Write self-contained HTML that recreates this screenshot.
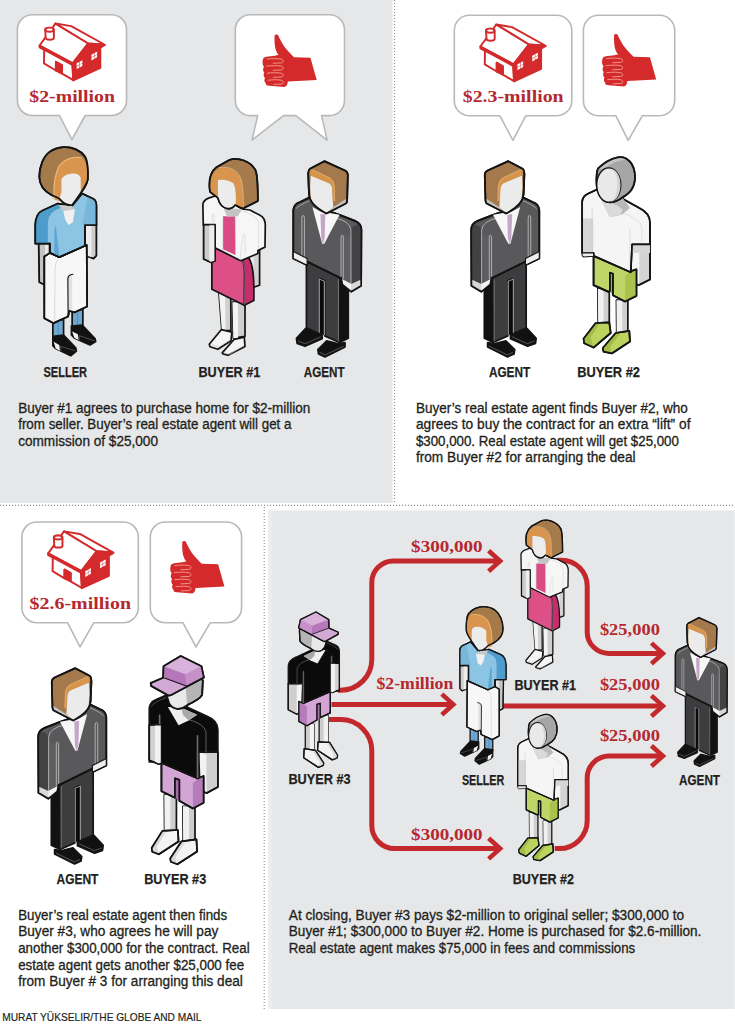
<!DOCTYPE html>
<html><head><meta charset="utf-8"><style>html,body{margin:0;padding:0;background:#fff;}svg{display:block;}</style></head>
<body><svg width="735" height="1024" viewBox="0 0 735 1024">
<rect x="0" y="0" width="735" height="1024" fill="#fff"/>
<rect x="0" y="0" width="392.6" height="503" fill="#e6e7e8"/>
<rect x="268" y="510.5" width="467" height="498.5" fill="#e6e7e8"/>
<rect x="268" y="510.5" width="3.5" height="498.5" fill="#eceef0"/>
<rect x="733" y="510.5" width="2" height="498.5" fill="#ebebeb"/>
<line x1="394.5" y1="0" x2="394.5" y2="502" stroke="#8f8f8f" stroke-width="1.1" stroke-dasharray="1.1 1.9"/>
<line x1="0" y1="505.4" x2="735" y2="505.4" stroke="#8f8f8f" stroke-width="1.1" stroke-dasharray="1.1 1.9"/>
<line x1="264.2" y1="507" x2="264.2" y2="1009" stroke="#8f8f8f" stroke-width="1.1" stroke-dasharray="1.1 1.9"/>
<path d="M32.4,14.7 H111.5 A15,15 0 0 1 126.5,29.7 V100.5 A15,15 0 0 1 111.5,115.5 H85.2 L71.9,139.6 L59.5,115.5 H32.4 A15,15 0 0 1 17.4,100.5 V29.7 A15,15 0 0 1 32.4,14.7 Z" fill="#fff" stroke="#b9b9b9" stroke-width="1.6" stroke-linejoin="round"/>
<path d="M250.3,14.7 H329.5 A15,15 0 0 1 344.5,29.7 V100.6 A15,15 0 0 1 329.5,115.6 H321.6 L327.1,140.1 L295.8,115.6 H283.5 L252,140.1 L257.7,115.6 H250.3 A15,15 0 0 1 235.3,100.6 V29.7 A15,15 0 0 1 250.3,14.7 Z" fill="#fff" stroke="#b9b9b9" stroke-width="1.6" stroke-linejoin="round"/>
<path d="M469.3,15.3 H556.8 A15,15 0 0 1 571.8,30.3 V100.7 A15,15 0 0 1 556.8,115.7 H525.9 L512.9,140.3 L499.8,115.7 H469.3 A15,15 0 0 1 454.3,100.7 V30.3 A15,15 0 0 1 469.3,15.3 Z" fill="#fff" stroke="#b9b9b9" stroke-width="1.6" stroke-linejoin="round"/>
<path d="M598.4,15.3 H659.7 A15,15 0 0 1 674.7,30.3 V100.7 A15,15 0 0 1 659.7,115.7 H642.4 L628.2,140.3 L615.8,115.7 H598.4 A15,15 0 0 1 583.4,100.7 V30.3 A15,15 0 0 1 598.4,15.3 Z" fill="#fff" stroke="#b9b9b9" stroke-width="1.6" stroke-linejoin="round"/>
<path d="M36.9,522 H123.30000000000001 A15,15 0 0 1 138.3,537 V607.8 A15,15 0 0 1 123.30000000000001,622.8 H93.7 L80,646.8 L67.6,622.8 H36.9 A15,15 0 0 1 21.9,607.8 V537 A15,15 0 0 1 36.9,522 Z" fill="#fff" stroke="#b9b9b9" stroke-width="1.6" stroke-linejoin="round"/>
<path d="M165.3,522 H226.6 A15,15 0 0 1 241.6,537 V607.8 A15,15 0 0 1 226.6,622.8 H210.2 L196,646.8 L183,622.8 H165.3 A15,15 0 0 1 150.3,607.8 V537 A15,15 0 0 1 165.3,522 Z" fill="#fff" stroke="#b9b9b9" stroke-width="1.6" stroke-linejoin="round"/>
<g transform="translate(35.00,20.00) scale(0.10204)">
<g fill="none" stroke="#d42a2c" stroke-width="19" stroke-linejoin="round">
<path d="M200,35 L355,60 L680,240 L520,230 Z" fill="#fff"/>
<path d="M200,35 L520,230 L370,425 L45,250 Z" fill="#fff"/>
<path d="M45,250 L45,268 L368,442 L370,425 Z" fill="#fff"/>
<path d="M90,290 L365,440 L375,590 L265,525 L265,445 L205,410 L205,495 L88,425 Z" fill="#fff"/>
<path d="M205,410 L265,445 L265,525 L205,495 Z" fill="#d42a2c"/>
<path d="M370,425 L520,230 L685,245 L640,272 L640,470 L375,592 Z" fill="#d42a2c"/>
<path d="M100,95 C100,70 185,70 185,95 L185,175 C185,200 105,200 105,175 Z" fill="#fff"/>
<ellipse cx="142" cy="95" rx="40" ry="20" fill="#fff"/>
</g>
<g fill="#fff">
<path d="M408,425 L434,411 L434,437 L408,451 Z"/><path d="M438,409 L464,395 L464,421 L438,435 Z"/>
<path d="M408,455 L434,441 L434,467 L408,481 Z"/><path d="M438,439 L464,425 L464,451 L438,465 Z"/>
<path d="M553,340 L579,326 L579,352 L553,366 Z"/><path d="M583,324 L609,310 L609,336 L583,350 Z"/>
<path d="M553,370 L579,356 L579,382 L553,396 Z"/><path d="M583,354 L609,340 L609,366 L583,380 Z"/>
</g>
</g>
<g transform="translate(475.80,21.00) scale(0.10204)">
<g fill="none" stroke="#d42a2c" stroke-width="19" stroke-linejoin="round">
<path d="M200,35 L355,60 L680,240 L520,230 Z" fill="#fff"/>
<path d="M200,35 L520,230 L370,425 L45,250 Z" fill="#fff"/>
<path d="M45,250 L45,268 L368,442 L370,425 Z" fill="#fff"/>
<path d="M90,290 L365,440 L375,590 L265,525 L265,445 L205,410 L205,495 L88,425 Z" fill="#fff"/>
<path d="M205,410 L265,445 L265,525 L205,495 Z" fill="#d42a2c"/>
<path d="M370,425 L520,230 L685,245 L640,272 L640,470 L375,592 Z" fill="#d42a2c"/>
<path d="M100,95 C100,70 185,70 185,95 L185,175 C185,200 105,200 105,175 Z" fill="#fff"/>
<ellipse cx="142" cy="95" rx="40" ry="20" fill="#fff"/>
</g>
<g fill="#fff">
<path d="M408,425 L434,411 L434,437 L408,451 Z"/><path d="M438,409 L464,395 L464,421 L438,435 Z"/>
<path d="M408,455 L434,441 L434,467 L408,481 Z"/><path d="M438,439 L464,425 L464,451 L438,465 Z"/>
<path d="M553,340 L579,326 L579,352 L553,366 Z"/><path d="M583,324 L609,310 L609,336 L583,350 Z"/>
<path d="M553,370 L579,356 L579,382 L553,396 Z"/><path d="M583,354 L609,340 L609,366 L583,380 Z"/>
</g>
</g>
<g transform="translate(43.60,527.80) scale(0.10204)">
<g fill="none" stroke="#d42a2c" stroke-width="19" stroke-linejoin="round">
<path d="M200,35 L355,60 L680,240 L520,230 Z" fill="#fff"/>
<path d="M200,35 L520,230 L370,425 L45,250 Z" fill="#fff"/>
<path d="M45,250 L45,268 L368,442 L370,425 Z" fill="#fff"/>
<path d="M90,290 L365,440 L375,590 L265,525 L265,445 L205,410 L205,495 L88,425 Z" fill="#fff"/>
<path d="M205,410 L265,445 L265,525 L205,495 Z" fill="#d42a2c"/>
<path d="M370,425 L520,230 L685,245 L640,272 L640,470 L375,592 Z" fill="#d42a2c"/>
<path d="M100,95 C100,70 185,70 185,95 L185,175 C185,200 105,200 105,175 Z" fill="#fff"/>
<ellipse cx="142" cy="95" rx="40" ry="20" fill="#fff"/>
</g>
<g fill="#fff">
<path d="M408,425 L434,411 L434,437 L408,451 Z"/><path d="M438,409 L464,395 L464,421 L438,435 Z"/>
<path d="M408,455 L434,441 L434,467 L408,481 Z"/><path d="M438,439 L464,425 L464,451 L438,465 Z"/>
<path d="M553,340 L579,326 L579,352 L553,366 Z"/><path d="M583,324 L609,310 L609,336 L583,350 Z"/>
<path d="M553,370 L579,356 L579,382 L553,396 Z"/><path d="M583,354 L609,340 L609,366 L583,380 Z"/>
</g>
</g>
<g transform="translate(255.00,28.00) scale(0.09524)">
<path d="M207,74 C215,66 235,66 242,74 C262,122 290,176 330,222 C360,256 385,282 410,307 L582,312 L648,546 L345,563 C342,592 332,617 310,620 L150,607 C120,605 110,592 112,577 C96,568 94,537 106,524 C88,514 86,482 98,467 C82,457 80,422 96,404 C76,394 74,337 90,314 C120,297 200,295 248,284 C222,252 212,217 208,182 C205,142 203,104 207,74 Z" fill="#d42a2c"/>
<g fill="none" stroke="#f6a494" stroke-width="9" stroke-linecap="round">
<path d="M128,326 C180,320 240,320 274,326 C302,333 304,360 280,366 L192,370"/>
<path d="M122,400 C180,394 240,394 274,400 C302,407 304,434 280,440 L192,444"/>
<path d="M128,474 C180,468 240,468 274,474 C302,481 304,508 280,514 L192,518"/>
<path d="M138,548 C185,542 240,542 274,548 C302,555 304,582 280,588 L197,592"/>
</g>
</g>
<g transform="translate(594.50,27.50) scale(0.09524)">
<path d="M207,74 C215,66 235,66 242,74 C262,122 290,176 330,222 C360,256 385,282 410,307 L582,312 L648,546 L345,563 C342,592 332,617 310,620 L150,607 C120,605 110,592 112,577 C96,568 94,537 106,524 C88,514 86,482 98,467 C82,457 80,422 96,404 C76,394 74,337 90,314 C120,297 200,295 248,284 C222,252 212,217 208,182 C205,142 203,104 207,74 Z" fill="#d42a2c"/>
<g fill="none" stroke="#f6a494" stroke-width="9" stroke-linecap="round">
<path d="M128,326 C180,320 240,320 274,326 C302,333 304,360 280,366 L192,370"/>
<path d="M122,400 C180,394 240,394 274,400 C302,407 304,434 280,440 L192,444"/>
<path d="M128,474 C180,468 240,468 274,474 C302,481 304,508 280,514 L192,518"/>
<path d="M138,548 C185,542 240,542 274,548 C302,555 304,582 280,588 L197,592"/>
</g>
</g>
<g transform="translate(162.70,534.50) scale(0.09524)">
<path d="M207,74 C215,66 235,66 242,74 C262,122 290,176 330,222 C360,256 385,282 410,307 L582,312 L648,546 L345,563 C342,592 332,617 310,620 L150,607 C120,605 110,592 112,577 C96,568 94,537 106,524 C88,514 86,482 98,467 C82,457 80,422 96,404 C76,394 74,337 90,314 C120,297 200,295 248,284 C222,252 212,217 208,182 C205,142 203,104 207,74 Z" fill="#d42a2c"/>
<g fill="none" stroke="#f6a494" stroke-width="9" stroke-linecap="round">
<path d="M128,326 C180,320 240,320 274,326 C302,333 304,360 280,366 L192,370"/>
<path d="M122,400 C180,394 240,394 274,400 C302,407 304,434 280,440 L192,444"/>
<path d="M128,474 C180,468 240,468 274,474 C302,481 304,508 280,514 L192,518"/>
<path d="M138,548 C185,542 240,542 274,548 C302,555 304,582 280,588 L197,592"/>
</g>
</g>
<text x="29.3" y="102.2" font-family="Liberation Serif" font-size="17.5" font-weight="bold" fill="#b5282f" textLength="85.7" lengthAdjust="spacingAndGlyphs" >$2-million</text>
<text x="462.8" y="102.0" font-family="Liberation Serif" font-size="17.5" font-weight="bold" fill="#b5282f" textLength="100.8" lengthAdjust="spacingAndGlyphs" >$2.3-million</text>
<text x="29.5" y="609.2" font-family="Liberation Serif" font-size="17.5" font-weight="bold" fill="#b5282f" textLength="101.5" lengthAdjust="spacingAndGlyphs" >$2.6-million</text>
<path d="M338,690.2 H340.8 A31,31 0 0 0 371.8,659.2 V582.5 A21.5,21.5 0 0 1 393.3,561 H500" fill="none" stroke="#c3292c" stroke-width="5" stroke-linejoin="round"/>
<path d="M488.6,550.7 L500.1,561 L488.6,571.3" fill="none" stroke="#c3292c" stroke-width="4.6" stroke-linecap="butt" stroke-linejoin="miter"/>
<path d="M331.5,704.4 H453" fill="none" stroke="#c3292c" stroke-width="5" stroke-linejoin="round"/>
<path d="M441.8,694.1 L453.3,704.4 L441.8,714.6999999999999" fill="none" stroke="#c3292c" stroke-width="4.6" stroke-linecap="butt" stroke-linejoin="miter"/>
<path d="M503.5,705.9 H662" fill="none" stroke="#c3292c" stroke-width="5" stroke-linejoin="round"/>
<path d="M651.4,695.6 L662.9,705.9 L651.4,716.1999999999999" fill="none" stroke="#c3292c" stroke-width="4.6" stroke-linecap="butt" stroke-linejoin="miter"/>
<path d="M328.8,719.6 H340.8 A31,31 0 0 1 371.8,750.6 V825.6 A23,23 0 0 0 394.8,848.6 H500" fill="none" stroke="#c3292c" stroke-width="5" stroke-linejoin="round"/>
<path d="M488.6,838.3000000000001 L500.1,848.6 L488.6,858.9" fill="none" stroke="#c3292c" stroke-width="4.6" stroke-linecap="butt" stroke-linejoin="miter"/>
<path d="M557,560.2 H561.5 A25.7,25.7 0 0 1 587.2,585.9 V631.9 A21.5,21.5 0 0 0 608.7,653.4 H662" fill="none" stroke="#c3292c" stroke-width="5" stroke-linejoin="round"/>
<path d="M651.4,643.1 L662.9,653.4 L651.4,663.6999999999999" fill="none" stroke="#c3292c" stroke-width="4.6" stroke-linecap="butt" stroke-linejoin="miter"/>
<path d="M554.7,848.6 H559.2 A28,28 0 0 0 587.2,820.6 V778 A22,22 0 0 1 609.2,756 H662" fill="none" stroke="#c3292c" stroke-width="5" stroke-linejoin="round"/>
<path d="M651.4,745.7 L662.9,756 L651.4,766.3" fill="none" stroke="#c3292c" stroke-width="4.6" stroke-linecap="butt" stroke-linejoin="miter"/>
<text x="411.1" y="551.6" font-family="Liberation Serif" font-size="16.5" font-weight="bold" fill="#b5282f" textLength="71.5" lengthAdjust="spacingAndGlyphs" >$300,000</text>
<text x="376.5" y="689.0" font-family="Liberation Serif" font-size="16.5" font-weight="bold" fill="#b5282f" textLength="76.8" lengthAdjust="spacingAndGlyphs" >$2-million</text>
<text x="411.1" y="839.7" font-family="Liberation Serif" font-size="16.5" font-weight="bold" fill="#b5282f" textLength="71.5" lengthAdjust="spacingAndGlyphs" >$300,000</text>
<text x="599.9" y="635.4" font-family="Liberation Serif" font-size="16.5" font-weight="bold" fill="#b5282f" textLength="60.0" lengthAdjust="spacingAndGlyphs" >$25,000</text>
<text x="599.9" y="689.5" font-family="Liberation Serif" font-size="16.5" font-weight="bold" fill="#b5282f" textLength="60.0" lengthAdjust="spacingAndGlyphs" >$25,000</text>
<text x="599.9" y="740.9" font-family="Liberation Serif" font-size="16.5" font-weight="bold" fill="#b5282f" textLength="60.0" lengthAdjust="spacingAndGlyphs" >$25,000</text>
<defs><g id="f_agent"><path d="M440,830 L513,795 L513,1262 L450,1292 Z" fill="#121212" stroke="#141414" stroke-width="12" stroke-linejoin="round" />
<path d="M220,722 L455,838 L452,1292 L348,1245 L348,860 L318,846 L318,1232 L220,1190 Z" fill="#3d3d3f" stroke="#141414" stroke-width="12" stroke-linejoin="round" />
<path d="M314,846 L342,858 L342,1240 L314,1228 Z" fill="#0a0a0a" />
<path d="M310,1222 L310,848 L346,862 L346,1238" fill="none" stroke="#cfcfcf" stroke-width="5" stroke-linecap="round" stroke-linejoin="round"/>
<path d="M444,852 L444,1282" fill="none" stroke="#a0a0a0" stroke-width="4" stroke-linecap="round" stroke-linejoin="round"/>
<path d="M128,365 Q132,322 175,308 L250,272 L400,380 L452,398 L560,440 Q605,458 605,505 L603,895 L533,936 L471,884 L462,838 L455,838 L220,722 L222,748 L128,704 Z" fill="#59595b" stroke="#141414" stroke-width="12" stroke-linejoin="round" />
<path d="M532,505 Q540,470 590,465 Q605,480 605,505 L603,895 L533,936 Z" fill="#424244" />
<path d="M462,560 L532,540 L532,936 L471,884 L462,838 Z" fill="#5e5e60" />
<path d="M470,848 L533,882 L603,850 L603,895 L533,936 L471,884 Z" fill="#d8d8d8" />
<path d="M470,848 L533,882 L533,936 L471,884 Z" fill="#f4f4f4" />
<path d="M420,420 Q525,440 532,505 L532,880" fill="none" stroke="#d0d0d0" stroke-width="5" stroke-linecap="round" stroke-linejoin="round"/>
<path d="M462,838 L462,560 Q462,540 470,540 L478,545 L478,845" fill="none" stroke="#d0d0d0" stroke-width="5" stroke-linecap="round" stroke-linejoin="round"/>
<path d="M220,722 L455,838" fill="none" stroke="#141414" stroke-width="9" stroke-linecap="round" stroke-linejoin="round"/>
<path d="M128,365 Q132,322 175,308 L250,272 L400,380 L452,398 L560,440 Q605,458 605,505 L603,895 L533,936 L471,884 L462,838 L455,838 L220,722 L222,748 L128,704 Z" fill="none" stroke="#141414" stroke-width="12" stroke-linejoin="round" />
<path d="M150,352 Q170,330 240,300" fill="none" stroke="#c0c0c0" stroke-width="5" stroke-linecap="round" stroke-linejoin="round"/>
<path d="M188,700 L188,420 Q188,402 197,402 Q206,402 206,420 L206,710" fill="none" stroke="#d0d0d0" stroke-width="5" stroke-linecap="round" stroke-linejoin="round"/>
<path d="M128,655 L225,703 L225,750 L128,704 Z" fill="#eeeeee" stroke="#141414" stroke-width="8" stroke-linejoin="round" />
<path d="M262,343 L325,378 L400,388 L452,398 L345,600 L330,600 Z" fill="#f7f7f7" />
<path d="M318,392 L352,394 L348,560 L336,605 L324,560 Z" fill="#c6a6c8" />
<path d="M345,22 L245,75 Q232,85 232,110 L238,255 Q245,330 360,388 L495,318 Q505,312 505,295 L510,120 Q510,98 490,88 Z" fill="#a47a4c" stroke="#141414" stroke-width="12" stroke-linejoin="round" />
<path d="M250,122 L380,176 Q400,188 402,215 L405,300 L408,345 L360,385 Q270,340 252,290 L246,200 Z" fill="#ebebec" />
<path d="M408,345 L360,385 L495,318 L500,285 Z" fill="#c4c4c6" />
<path d="M240,82 L262,80 L385,138 Q415,156 417,200 L420,300 L404,302 L400,212 Q398,186 380,176 L250,122 Z" fill="#d9944b" />
<path d="M262,82 L385,140 Q413,158 415,200 L418,300" fill="none" stroke="#f2cf9a" stroke-width="3" stroke-linecap="round" stroke-linejoin="round"/>
<path d="M345,22 L245,75 Q232,85 232,110 L238,255 Q245,330 360,388 L495,318 Q505,312 505,295 L510,120 Q510,98 490,88 Z" fill="none" stroke="#141414" stroke-width="12" stroke-linejoin="round" />
<path d="M150,1262 L215,1193 L330,1240 L330,1265 L210,1318 L155,1298 Z" fill="#111" stroke="#141414" stroke-width="12" stroke-linejoin="round" />
<path d="M165,1282 L212,1300 L318,1252" fill="none" stroke="#8a8a8a" stroke-width="4" stroke-linecap="round" stroke-linejoin="round"/>
<path d="M300,1342 L362,1280 L445,1300 L490,1292 L490,1322 L350,1392 L305,1372 Z" fill="#111" stroke="#141414" stroke-width="12" stroke-linejoin="round" />
<path d="M315,1362 L352,1378 L478,1318" fill="none" stroke="#8a8a8a" stroke-width="4" stroke-linecap="round" stroke-linejoin="round"/></g>
<g id="f_buyer1"><path d="M382,660 L452,640 L452,912 L400,930 L382,915 Z" fill="#d2d2d2" stroke="#141414" stroke-width="12" stroke-linejoin="round" />
<path d="M382,660 L410,668 L410,925 L400,930 L382,915 Z" fill="#efefef" />
<path d="M262,1030 L350,1030 L350,1270 L268,1282 Z" fill="#cfcfcf" stroke="#141414" stroke-width="12" stroke-linejoin="round" />
<path d="M262,1030 L300,1030 L302,1282 L268,1282 Z" fill="#f3f3f3" />
<path d="M165,930 L250,960 L252,1228 L188,1232 Z" fill="#d0d0d0" stroke="#141414" stroke-width="12" stroke-linejoin="round" />
<path d="M165,930 L210,945 L214,1230 L188,1232 Z" fill="#f3f3f3" />
<path d="M330,735 L372,715 Q410,760 412,930 L412,1018 L345,1052 Z" fill="#c72d6c" stroke="#141414" stroke-width="12" stroke-linejoin="round" />
<path d="M118,640 L330,735 Q350,770 347,850 L345,1052 L118,940 Z" fill="#dc4f87" stroke="#141414" stroke-width="12" stroke-linejoin="round" />
<path d="M335,745 Q352,780 350,850 L348,1045" fill="none" stroke="#f3a6c6" stroke-width="4" stroke-linecap="round" stroke-linejoin="round"/>
<path d="M55,345 Q58,318 95,302 L160,280 L330,378 L385,385 L455,422 Q492,440 492,492 L490,645 L440,668 L440,690 L320,740 L140,650 L140,490 L58,490 Z" fill="#f6f6f6" stroke="#141414" stroke-width="12" stroke-linejoin="round" />
<path d="M330,392 Q430,420 445,470 L445,650" fill="none" stroke="#cfcfcf" stroke-width="4" stroke-linecap="round" stroke-linejoin="round"/>
<path d="M315,735 Q330,600 340,560 Q345,540 350,560 L352,690" fill="none" stroke="#cfcfcf" stroke-width="4" stroke-linecap="round" stroke-linejoin="round"/>
<path d="M120,470 L122,420 Q125,405 130,420 L138,490" fill="none" stroke="#cfcfcf" stroke-width="4" stroke-linecap="round" stroke-linejoin="round"/>
<path d="M196,428 L280,428 L282,700 L196,660 Z" fill="#da4a84" />
<path d="M282,430 L284,700" fill="none" stroke="#b8b8b8" stroke-width="4" stroke-linecap="round" stroke-linejoin="round"/>
<path d="M196,432 L196,662" fill="none" stroke="#b8b8b8" stroke-width="4" stroke-linecap="round" stroke-linejoin="round"/>
<path d="M60,488 L140,488 L140,742 L112,752 L60,728 Z" fill="#cccccc" stroke="#141414" stroke-width="12" stroke-linejoin="round" />
<path d="M100,488 L140,488 L140,742 L112,752 L100,746 Z" fill="#ededed" />
<path d="M60,488 L140,488 L140,742 L112,752 L60,728 Z" fill="none" stroke="#141414" stroke-width="8" stroke-linejoin="round" />
<path d="M200,372 L330,378 L300,428 L225,432 Z" fill="#c3c3c3" />
<path d="M105,258 C95,190 105,120 150,85 L240,35 C300,15 390,40 425,110 C440,150 440,230 440,322 L335,375 C300,360 290,350 280,350 C270,365 250,378 228,375 C195,370 170,340 160,300 Z" fill="#a67b4c" stroke="#141414" stroke-width="12" stroke-linejoin="round" />
<path d="M108,252 C100,175 120,112 170,95 C235,78 302,110 322,175 C335,225 335,300 335,372 L285,350 C288,280 285,230 270,200 C250,180 200,170 160,175 L160,300 Z" fill="#d9954d" />
<path d="M160,175 C200,170 250,180 270,200 C285,230 288,280 285,345 C270,362 250,375 228,375 C195,370 168,340 160,300 Z" fill="#ececed" />
<path d="M165,90 C240,72 312,108 327,190 C337,240 338,300 340,370" fill="none" stroke="#f5d8a6" stroke-width="4" stroke-linecap="round" stroke-linejoin="round"/>
<path d="M105,258 C95,190 105,120 150,85 L240,35 C300,15 390,40 425,110 C440,150 440,230 440,322 L335,375 C300,360 290,350 280,350 C270,365 250,378 228,375 C195,370 170,340 160,300 Z" fill="none" stroke="#141414" stroke-width="12" stroke-linejoin="round" />
<path d="M100,1325 L185,1222 L258,1240 L252,1300 L160,1360 L105,1342 Z" fill="#f5f5f5" stroke="#141414" stroke-width="12" stroke-linejoin="round" />
<path d="M118,1330 L165,1345 L245,1295" fill="none" stroke="#bcbcbc" stroke-width="4" stroke-linecap="round" stroke-linejoin="round"/>
<path d="M190,1385 L275,1290 L345,1275 L350,1340 L232,1402 L195,1392 Z" fill="#f5f5f5" stroke="#141414" stroke-width="12" stroke-linejoin="round" />
<path d="M205,1385 L245,1395 L340,1335" fill="none" stroke="#bcbcbc" stroke-width="4" stroke-linecap="round" stroke-linejoin="round"/></g>
<g id="f_seller"><path d="M95,660 L170,660 L170,965 L140,980 L100,960 Z" fill="#c4c4c4" stroke="#141414" stroke-width="12" stroke-linejoin="round" />
<path d="M140,660 L170,660 L170,965 L140,980 Z" fill="#e9e9e9" />
<path d="M95,660 L170,660 L170,965 L140,980 L100,960 Z" fill="none" stroke="#141414" stroke-width="8" stroke-linejoin="round" />
<path d="M420,560 L500,560 L500,775 L480,795 L440,780 L422,770 Z" fill="#cdcdcd" stroke="#141414" stroke-width="12" stroke-linejoin="round" />
<path d="M420,560 L465,560 L465,790 L440,780 L422,770 Z" fill="#ededed" />
<path d="M420,560 L500,560 L500,775 L480,795 L440,780 L422,770 Z" fill="none" stroke="#141414" stroke-width="8" stroke-linejoin="round" />
<path d="M195,1230 L270,1220 L270,1350 L195,1350 Z" fill="#6fa7cf" stroke="#141414" stroke-width="12" stroke-linejoin="round" />
<path d="M330,1160 L405,1150 L405,1280 L330,1280 Z" fill="#6fa7cf" stroke="#141414" stroke-width="12" stroke-linejoin="round" />
<path d="M232,1240 L232,1345" fill="none" stroke="#4d88b5" stroke-width="5" stroke-linecap="round" stroke-linejoin="round"/>
<path d="M368,1170 L368,1275" fill="none" stroke="#4d88b5" stroke-width="5" stroke-linecap="round" stroke-linejoin="round"/>
<path d="M175,755 L240,785 L420,705 L432,700 L435,1130 L345,1172 L310,1160 L302,1200 L200,1247 L135,1212 L135,780 Z" fill="#f7f7f7" stroke="#141414" stroke-width="12" stroke-linejoin="round" />
<path d="M300,930 Q300,910 315,905 L330,900 L330,1165 L302,1178 Z" fill="#e2e2e2" />
<path d="M302,1195 L300,935 Q300,915 320,908 L335,905" fill="none" stroke="#141414" stroke-width="8" stroke-linecap="round" stroke-linejoin="round"/>
<path d="M230,800 Q212,820 210,870 L208,1240" fill="none" stroke="#cccccc" stroke-width="5" stroke-linecap="round" stroke-linejoin="round"/>
<path d="M175,755 L240,785 L420,705 L432,700 L435,1130 L345,1172 L310,1160 L302,1200 L200,1247 L135,1212 L135,780 Z" fill="none" stroke="#141414" stroke-width="12" stroke-linejoin="round" />
<path d="M72,560 Q75,480 120,460 L230,410 L330,425 L400,340 L480,378 Q500,392 500,425 L500,560 L420,560 L420,705 L240,785 L175,755 L175,690 L72,690 Z" fill="#8cc4e3" stroke="#141414" stroke-width="12" stroke-linejoin="round" />
<path d="M72,560 Q75,480 120,460 L230,410 L250,440 Q160,470 160,540 L160,690 L72,690 Z" fill="#4d9ccb" />
<path d="M205,600 L215,560 L240,780 L205,770 Z" fill="#5ba6d2" />
<path d="M400,560 L500,560 L500,425 Q500,392 480,378 L440,360 Z" fill="#78b6da" />
<path d="M72,560 Q75,480 120,460 L230,410 L330,425 L400,340 L480,378 Q500,392 500,425 L500,560 L420,560 L420,705 L240,785 L175,755 L175,690 L72,690 Z" fill="none" stroke="#141414" stroke-width="12" stroke-linejoin="round" />
<path d="M235,420 L330,425 L345,455 L270,465 Z" fill="#c9c9c9" />
<path d="M268,462 L350,450 L335,540 L305,560 L282,525 Z" fill="#f0f0f0" />
<path d="M270,15 C330,10 390,40 420,80 C440,110 442,170 440,240 C430,290 395,330 330,420 C300,425 270,410 240,375 L185,350 C130,320 100,280 100,220 C100,150 130,80 170,50 C200,28 240,17 270,15 Z" fill="#a57a4b" stroke="#141414" stroke-width="12" stroke-linejoin="round" />
<path d="M200,380 C195,300 200,220 230,150 C260,100 320,72 390,85 C430,100 442,170 440,240 C430,290 395,330 330,420 Z" fill="#d9954d" />
<path d="M255,240 C270,215 300,200 340,200 C370,200 388,215 390,235 L390,330 L330,420 C300,425 270,410 240,375 L255,330 Z" fill="#ececed" />
<path d="M205,380 C200,300 205,225 235,160 C265,110 320,78 395,88" fill="none" stroke="#f5d8a6" stroke-width="4" stroke-linecap="round" stroke-linejoin="round"/>
<path d="M270,15 C330,10 390,40 420,80 C440,110 442,170 440,240 C430,290 395,330 330,420 C300,425 270,410 240,375 L185,350 C130,320 100,280 100,220 C100,150 130,80 170,50 C200,28 240,17 270,15 Z" fill="none" stroke="#141414" stroke-width="12" stroke-linejoin="round" />
<path d="M195,1340 L270,1330 L355,1420 L360,1442 L320,1475 L215,1425 L195,1405 Z" fill="#111" stroke="#141414" stroke-width="12" stroke-linejoin="round" />
<path d="M200,1378 L215,1425 L245,1440 L240,1400 Z" fill="#f2f2f2" />
<path d="M250,1440 L250,1410 L350,1440" fill="none" stroke="#777" stroke-width="4" stroke-linecap="round" stroke-linejoin="round"/>
<path d="M325,1268 L400,1260 L490,1355 L495,1375 L455,1400 L345,1350 L325,1330 Z" fill="#111" stroke="#141414" stroke-width="12" stroke-linejoin="round" />
<path d="M330,1305 L345,1350 L375,1365 L370,1325 Z" fill="#f2f2f2" />
<path d="M380,1365 L380,1335 L485,1370" fill="none" stroke="#777" stroke-width="4" stroke-linecap="round" stroke-linejoin="round"/></g>
<g id="f_buyer2"><path d="M385,640 L525,640 L525,885 L445,925 L395,900 Z" fill="#d3d3d3" stroke="#141414" stroke-width="12" stroke-linejoin="round" />
<path d="M385,640 L450,660 L450,922 L445,925 L395,900 Z" fill="#f5f5f5" />
<path d="M385,640 L525,640 L525,885 L445,925 L395,900 Z" fill="none" stroke="#141414" stroke-width="12" stroke-linejoin="round" />
<path d="M290,1030 L370,1030 L370,1265 L292,1268 Z" fill="#cfcfcf" stroke="#141414" stroke-width="12" stroke-linejoin="round" />
<path d="M290,1030 L330,1030 L330,1268 L292,1268 Z" fill="#f1f1f1" />
<path d="M160,950 L240,950 L240,1188 L162,1192 Z" fill="#cfcfcf" stroke="#141414" stroke-width="12" stroke-linejoin="round" />
<path d="M160,950 L200,950 L200,1190 L162,1192 Z" fill="#f1f1f1" />
<path d="M130,718 L385,830 L430,815 L430,1000 L350,1040 L265,995 L265,845 L245,838 L245,968 L235,972 L130,925 Z" fill="#bfd567" stroke="#141414" stroke-width="12" stroke-linejoin="round" />
<path d="M385,830 L430,815 L430,1000 L350,1040 L352,860 Z" fill="#a9c24e" />
<path d="M245,838 L265,845 L265,995 L245,968 Z" fill="#9cb542" />
<path d="M130,718 L385,830 L430,815 L430,1000 L350,1040 L265,995 L265,845 L245,838 L245,968 L235,972 L130,925 Z" fill="none" stroke="#141414" stroke-width="12" stroke-linejoin="round" />
<path d="M50,340 Q55,300 90,285 L165,250 L330,318 L450,385 Q525,420 525,490 L525,640 L400,640 L390,835 L130,720 L130,700 L50,700 Z" fill="#f5f5f5" stroke="#141414" stroke-width="12" stroke-linejoin="round" />
<path d="M55,458 L128,458 L128,700 L55,700 Z" fill="#d6d6d6" />
<path d="M400,640 L525,640 L525,700 L400,700 Z" fill="#d6d6d6" />
<path d="M330,420 Q455,455 468,520 L468,640" fill="none" stroke="#d0d0d0" stroke-width="4" stroke-linecap="round" stroke-linejoin="round"/>
<path d="M120,690 L120,390" fill="none" stroke="#c8c8c8" stroke-width="4" stroke-linecap="round" stroke-linejoin="round"/>
<path d="M385,830 L385,535" fill="none" stroke="#c8c8c8" stroke-width="4" stroke-linecap="round" stroke-linejoin="round"/>
<path d="M50,340 Q55,300 90,285 L165,250 L330,318 L450,385 Q525,420 525,490 L525,640 L400,640 L390,835 L130,720 L130,700 L50,700 Z" fill="none" stroke="#141414" stroke-width="12" stroke-linejoin="round" />
<path d="M50,700 L130,700 L130,722 L60,728 L50,720 Z" fill="#eeeeee" stroke="#141414" stroke-width="7" stroke-linejoin="round" />
<path d="M185,330 L330,310 L385,385 L330,430 L245,450 Z" fill="#b9b9b9" />
<path d="M185,330 L245,450 L320,432 L335,395 L280,360 Z" fill="#dadada" />
<path d="M160,110 C200,70 260,38 300,30 C370,20 420,80 420,170 C420,230 390,282 330,312 C300,335 270,345 245,345 C190,345 150,280 150,200 C150,160 153,128 160,110 Z" fill="#a6a6a6" stroke="#141414" stroke-width="12" stroke-linejoin="round" />
<path d="M160,110 C200,70 260,38 300,30 C330,26 350,34 365,45 C300,50 240,80 200,110 Z" fill="#c4c4c4" />
<path d="M160,110 C200,70 260,38 300,30 C370,20 420,80 420,170 C420,230 390,282 330,312 C300,335 270,345 245,345 C190,345 150,280 150,200 C150,160 153,128 160,110 Z" fill="none" stroke="#141414" stroke-width="12" stroke-linejoin="round" />
<ellipse cx="236" cy="224" rx="84" ry="120" fill="#e9e9e9" stroke="#141414" stroke-width="10"/>
<path d="M250,106 C300,120 318,170 318,224 C318,285 292,335 250,342 C282,318 296,275 296,224 C296,170 282,125 250,106 Z" fill="#d4d4d4" />
<path d="M60,1300 L145,1190 L240,1185 L250,1260 L130,1362 L65,1332 Z" fill="#bcd45f" stroke="#141414" stroke-width="12" stroke-linejoin="round" />
<path d="M60,1300 L145,1190 L170,1200 L110,1290 L130,1362 L65,1332 Z" fill="#a3bc46" />
<path d="M60,1300 L145,1190 L240,1185 L250,1260 L130,1362 L65,1332 Z" fill="none" stroke="#141414" stroke-width="12" stroke-linejoin="round" />
<path d="M195,1365 L285,1260 L380,1245 L385,1320 L260,1402 L200,1390 Z" fill="#bcd45f" stroke="#141414" stroke-width="12" stroke-linejoin="round" />
<path d="M195,1365 L285,1260 L310,1270 L245,1360 L260,1402 L200,1390 Z" fill="#a3bc46" />
<path d="M195,1365 L285,1260 L380,1245 L385,1320 L260,1402 L200,1390 Z" fill="none" stroke="#141414" stroke-width="12" stroke-linejoin="round" /></g>
<g id="f_buyer3"><path d="M410,700 L545,700 L545,945 L465,988 L420,960 Z" fill="#cfcfcf" stroke="#141414" stroke-width="12" stroke-linejoin="round" />
<path d="M410,700 L465,720 L465,985 L420,960 Z" fill="#f3f3f3" />
<path d="M410,700 L545,700 L545,945 L465,988 L420,960 Z" fill="none" stroke="#141414" stroke-width="12" stroke-linejoin="round" />
<path d="M300,1080 L385,1080 L385,1325 L302,1328 Z" fill="#cdcdcd" stroke="#141414" stroke-width="12" stroke-linejoin="round" />
<path d="M300,1080 L343,1080 L343,1328 L302,1328 Z" fill="#f1f1f1" />
<path d="M170,1000 L255,1000 L255,1250 L172,1252 Z" fill="#cdcdcd" stroke="#141414" stroke-width="12" stroke-linejoin="round" />
<path d="M170,1000 L213,1000 L213,1252 L172,1252 Z" fill="#f1f1f1" />
<path d="M150,775 L405,885 L445,868 L445,1055 L370,1095 L275,1042 L275,895 L245,885 L245,1020 L150,975 Z" fill="#d2a5d5" stroke="#141414" stroke-width="12" stroke-linejoin="round" />
<path d="M405,885 L445,868 L445,1055 L370,1095 L370,920 Z" fill="#b67bbb" />
<path d="M245,885 L275,895 L275,1042 L245,1020 Z" fill="#a76aab" />
<path d="M150,775 L405,885 L445,868 L445,1055 L370,1095 L275,1042 L275,895 L245,885 L245,1020 L150,975 Z" fill="none" stroke="#141414" stroke-width="12" stroke-linejoin="round" />
<path d="M65,395 Q68,350 110,335 L185,302 L340,390 L470,450 Q545,480 545,545 L545,700 L410,700 L405,885 L150,775 L150,770 L65,770 Z" fill="#0b0b0b" stroke="#141414" stroke-width="12" stroke-linejoin="round" />
<path d="M330,470 Q450,500 462,560 L462,700" fill="none" stroke="#9a9a9a" stroke-width="4" stroke-linecap="round" stroke-linejoin="round"/>
<path d="M135,700 L135,440 L140,440 L140,700" fill="none" stroke="#aaaaaa" stroke-width="4" stroke-linecap="round" stroke-linejoin="round"/>
<path d="M400,880 L400,585 L405,585 L405,880" fill="none" stroke="#aaaaaa" stroke-width="4" stroke-linecap="round" stroke-linejoin="round"/>
<path d="M80,380 Q100,350 180,320" fill="none" stroke="#777" stroke-width="4" stroke-linecap="round" stroke-linejoin="round"/>
<path d="M65,510 L150,510 L150,778 L132,785 L70,760 L65,755 Z" fill="#d2d2d2" stroke="#141414" stroke-width="12" stroke-linejoin="round" />
<path d="M105,510 L150,510 L150,778 L132,785 L105,772 Z" fill="#f1f1f1" />
<path d="M65,510 L150,510 L150,778 L132,785 L70,760 L65,755 Z" fill="none" stroke="#141414" stroke-width="9" stroke-linejoin="round" />
<path d="M195,385 L290,390 L400,440 L340,480 L270,512 Z" fill="#f0f0f0" />
<path d="M290,390 L400,440 L340,478 L300,440 Z" fill="#a9a9a9" />
<path d="M185,300 L430,185 L440,200 L435,300 Q420,330 330,372 Q295,400 262,398 Q225,392 205,360 Z" fill="#b5b5b5" stroke="#141414" stroke-width="12" stroke-linejoin="round" />
<path d="M192,300 L320,245 L330,372 Q295,400 262,398 Q225,392 205,360 Z" fill="#e9e9e9" />
<path d="M185,300 L430,185 L440,200 L435,300 Q420,330 330,372 Q295,400 262,398 Q225,392 205,360 Z" fill="none" stroke="#141414" stroke-width="12" stroke-linejoin="round" />
<path d="M75,218 L162,180 L165,100 L285,28 L430,100 L447,178 L215,302 L198,305 L78,238 Z" fill="#cb9fce" stroke="#141414" stroke-width="12" stroke-linejoin="round" />
<path d="M165,100 L285,28 L430,100 L318,155 Z" fill="#d9b2dc" />
<path d="M165,100 L318,155 L328,238 L175,178 Z" fill="#b676ba" />
<path d="M318,155 L430,100 L447,178 L328,238 Z" fill="#c591c8" />
<path d="M78,220 L172,182 L328,240 L215,302 Z" fill="#d1a9d4" />
<path d="M75,218 L162,180 L165,100 L285,28 L430,100 L447,178 L215,302 L198,305 L78,238 Z" fill="none" stroke="#141414" stroke-width="12" stroke-linejoin="round" />
<path d="M172,182 L328,240 L447,178" fill="none" stroke="#141414" stroke-width="8" stroke-linecap="round" stroke-linejoin="round"/>
<path d="M82,1372 L157,1252 L265,1246 L270,1326 L132,1416 L86,1398 Z" fill="#f3f3f3" stroke="#141414" stroke-width="12" stroke-linejoin="round" />
<path d="M82,1372 L157,1252 L182,1262 L118,1362 L132,1416 L86,1398 Z" fill="#d9d9d9" />
<path d="M82,1372 L157,1252 L265,1246 L270,1326 L132,1416 L86,1398 Z" fill="none" stroke="#141414" stroke-width="12" stroke-linejoin="round" />
<path d="M212,1446 L290,1326 L395,1311 L400,1396 L262,1486 L216,1468 Z" fill="#f3f3f3" stroke="#141414" stroke-width="12" stroke-linejoin="round" />
<path d="M212,1446 L290,1326 L315,1336 L248,1436 L262,1486 L216,1468 Z" fill="#d9d9d9" />
<path d="M212,1446 L290,1326 L395,1311 L400,1396 L262,1486 L216,1468 Z" fill="none" stroke="#141414" stroke-width="12" stroke-linejoin="round" /></g></defs>
<use href="#f_agent" transform="translate(275.00,158.00) scale(0.14286,0.14286)"/>
<use href="#f_buyer1" transform="translate(195.00,155.00) scale(0.14286,0.14286)"/>
<use href="#f_seller" transform="translate(25.00,145.00) scale(0.14286,0.14286)"/>
<use href="#f_buyer2" transform="translate(575.00,153.00) scale(0.14286,0.14286)"/>
<use href="#f_buyer3" transform="translate(140.00,652.00) scale(0.14286,0.14286)"/>
<use href="#f_agent" transform="translate(557.60,158.00) scale(-0.14286,0.14286)"/>
<use href="#f_agent" transform="translate(124.60,665.00) scale(-0.14286,0.14286)"/>
<use href="#f_agent" transform="translate(661.50,615.20) scale(0.10857,0.10857)"/>
<use href="#f_buyer3" transform="translate(346.30,609.00) scale(-0.10657,0.10657)"/>
<use href="#f_seller" transform="translate(513.80,605.10) scale(-0.10786,0.10786)"/>
<use href="#f_buyer1" transform="translate(515.00,517.20) scale(0.10814,0.10814)"/>
<use href="#f_buyer2" transform="translate(512.40,711.40) scale(0.10643,0.10643)"/>
<text x="43.5" y="377.3" font-family="Liberation Sans" font-size="14.8" font-weight="bold" fill="#231f20" textLength="43.5" lengthAdjust="spacingAndGlyphs" stroke="#231f20" stroke-width="0.25">SELLER</text>
<text x="198.5" y="377.2" font-family="Liberation Sans" font-size="14.8" font-weight="bold" fill="#231f20" textLength="61.8" lengthAdjust="spacingAndGlyphs" stroke="#231f20" stroke-width="0.25">BUYER #1</text>
<text x="303.8" y="377.2" font-family="Liberation Sans" font-size="14.8" font-weight="bold" fill="#231f20" textLength="40.8" lengthAdjust="spacingAndGlyphs" stroke="#231f20" stroke-width="0.25">AGENT</text>
<text x="488.9" y="377.0" font-family="Liberation Sans" font-size="14.8" font-weight="bold" fill="#231f20" textLength="41.3" lengthAdjust="spacingAndGlyphs" stroke="#231f20" stroke-width="0.25">AGENT</text>
<text x="577.2" y="377.0" font-family="Liberation Sans" font-size="14.8" font-weight="bold" fill="#231f20" textLength="62.8" lengthAdjust="spacingAndGlyphs" stroke="#231f20" stroke-width="0.25">BUYER #2</text>
<text x="56.5" y="884.4" font-family="Liberation Sans" font-size="14.8" font-weight="bold" fill="#231f20" textLength="41.9" lengthAdjust="spacingAndGlyphs" stroke="#231f20" stroke-width="0.25">AGENT</text>
<text x="144.2" y="884.4" font-family="Liberation Sans" font-size="14.8" font-weight="bold" fill="#231f20" textLength="62.0" lengthAdjust="spacingAndGlyphs" stroke="#231f20" stroke-width="0.25">BUYER #3</text>
<text x="288.4" y="784.3" font-family="Liberation Sans" font-size="14.8" font-weight="bold" fill="#231f20" textLength="62.2" lengthAdjust="spacingAndGlyphs" stroke="#231f20" stroke-width="0.25">BUYER #3</text>
<text x="461.9" y="784.6" font-family="Liberation Sans" font-size="14.8" font-weight="bold" fill="#231f20" textLength="42.4" lengthAdjust="spacingAndGlyphs" stroke="#231f20" stroke-width="0.25">SELLER</text>
<text x="514.4" y="690.0" font-family="Liberation Sans" font-size="14.8" font-weight="bold" fill="#231f20" textLength="61.6" lengthAdjust="spacingAndGlyphs" stroke="#231f20" stroke-width="0.25">BUYER #1</text>
<text x="679.0" y="785.0" font-family="Liberation Sans" font-size="14.8" font-weight="bold" fill="#231f20" textLength="41.0" lengthAdjust="spacingAndGlyphs" stroke="#231f20" stroke-width="0.25">AGENT</text>
<text x="512.8" y="884.2" font-family="Liberation Sans" font-size="14.8" font-weight="bold" fill="#231f20" textLength="61.2" lengthAdjust="spacingAndGlyphs" stroke="#231f20" stroke-width="0.25">BUYER #2</text>
<text x="18.2" y="412.7" font-family="Liberation Sans" font-size="13.8" font-weight="normal" fill="#231f20" textLength="292.1" lengthAdjust="spacingAndGlyphs" stroke="#231f20" stroke-width="0.3">Buyer #1 agrees to purchase home for $2-million</text>
<text x="18.2" y="429.3" font-family="Liberation Sans" font-size="13.8" font-weight="normal" fill="#231f20" textLength="273.3" lengthAdjust="spacingAndGlyphs" stroke="#231f20" stroke-width="0.3">from seller. Buyer’s real estate agent will get a</text>
<text x="18.2" y="445.9" font-family="Liberation Sans" font-size="13.8" font-weight="normal" fill="#231f20" textLength="139.8" lengthAdjust="spacingAndGlyphs" stroke="#231f20" stroke-width="0.3">commission of $25,000</text>
<text x="415.9" y="412.6" font-family="Liberation Sans" font-size="13.8" font-weight="normal" fill="#231f20" textLength="271.9" lengthAdjust="spacingAndGlyphs" stroke="#231f20" stroke-width="0.3">Buyer’s real estate agent finds Buyer #2, who</text>
<text x="415.9" y="429.2" font-family="Liberation Sans" font-size="13.8" font-weight="normal" fill="#231f20" textLength="274.6" lengthAdjust="spacingAndGlyphs" stroke="#231f20" stroke-width="0.3">agrees to buy the contract for an extra “lift” of</text>
<text x="415.9" y="445.8" font-family="Liberation Sans" font-size="13.8" font-weight="normal" fill="#231f20" textLength="263.0" lengthAdjust="spacingAndGlyphs" stroke="#231f20" stroke-width="0.3">$300,000. Real estate agent will get $25,000</text>
<text x="415.9" y="462.4" font-family="Liberation Sans" font-size="13.8" font-weight="normal" fill="#231f20" textLength="219.7" lengthAdjust="spacingAndGlyphs" stroke="#231f20" stroke-width="0.3">from Buyer #2 for arranging the deal</text>
<text x="18.2" y="919.8" font-family="Liberation Sans" font-size="13.8" font-weight="normal" fill="#231f20" textLength="208.9" lengthAdjust="spacingAndGlyphs" stroke="#231f20" stroke-width="0.3">Buyer’s real estate agent then finds</text>
<text x="18.2" y="936.4" font-family="Liberation Sans" font-size="13.8" font-weight="normal" fill="#231f20" textLength="200.1" lengthAdjust="spacingAndGlyphs" stroke="#231f20" stroke-width="0.3">Buyer #3, who agrees he will pay</text>
<text x="18.2" y="953.1" font-family="Liberation Sans" font-size="13.8" font-weight="normal" fill="#231f20" textLength="231.4" lengthAdjust="spacingAndGlyphs" stroke="#231f20" stroke-width="0.3">another $300,000 for the contract. Real</text>
<text x="18.2" y="969.8" font-family="Liberation Sans" font-size="13.8" font-weight="normal" fill="#231f20" textLength="225.9" lengthAdjust="spacingAndGlyphs" stroke="#231f20" stroke-width="0.3">estate agent gets another $25,000 fee</text>
<text x="18.2" y="986.4" font-family="Liberation Sans" font-size="13.8" font-weight="normal" fill="#231f20" textLength="224.6" lengthAdjust="spacingAndGlyphs" stroke="#231f20" stroke-width="0.3">from Buyer # 3 for arranging this deal</text>
<text x="288.8" y="919.7" font-family="Liberation Sans" font-size="13.8" font-weight="normal" fill="#231f20" textLength="395.3" lengthAdjust="spacingAndGlyphs" stroke="#231f20" stroke-width="0.3">At closing, Buyer #3 pays $2-million to original seller; $300,000 to</text>
<text x="288.8" y="936.2" font-family="Liberation Sans" font-size="13.8" font-weight="normal" fill="#231f20" textLength="412.6" lengthAdjust="spacingAndGlyphs" stroke="#231f20" stroke-width="0.3">Buyer #1; $300,000 to Buyer #2. Home is purchased for $2.6-million.</text>
<text x="288.8" y="952.8" font-family="Liberation Sans" font-size="13.8" font-weight="normal" fill="#231f20" textLength="346.4" lengthAdjust="spacingAndGlyphs" stroke="#231f20" stroke-width="0.3">Real estate agent makes $75,000 in fees and commissions</text>
<text x="2.3" y="1020.7" font-family="Liberation Sans" font-size="11.6" font-weight="normal" fill="#231f20" textLength="199.1" lengthAdjust="spacingAndGlyphs" stroke="#231f20" stroke-width="0.2">MURAT YÜKSELIR/THE GLOBE AND MAIL</text>
</svg></body></html>
